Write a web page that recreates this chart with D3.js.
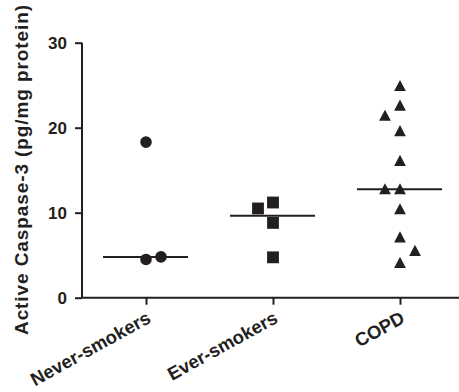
<!DOCTYPE html>
<html>
<head>
<meta charset="utf-8">
<script src="https://cdn.jsdelivr.net/npm/d3@7"></script>
<style>
  body { margin: 0; background: #fff; }
  text { font-family: "Liberation Sans", Arial, sans-serif; font-weight: bold; fill: #231f20; }
</style>
</head>
<body>
<script>
// groups along the x axis
var groups = ["Never-smokers", "Ever-smokers", "COPD"];
var shapes = ["circle", "square", "triangle"];

// values per group (pg/mg protein)
var neverVals = [18.3, 4.5, 4.8];
var everVals = [11.2, 10.5, 8.8, 4.75];
var copdVals = [24.9, 22.6, 21.4, 19.6, 16.1, 12.75, 12.75, 10.4, 7.1, 5.5, 4.1];

// side-by-side nudges for overlapping points (in marker widths)
var neverJit = [0, 0, 1];
var everJit = [0, -1, 0, 0];
var copdJit = [0, 0, -1, 0, 0, -1, 0, 0, 0, 1, 0];

var yTicks = [0, 10, 20, 30];

var width = 459, height = 392;
var margin = {left: 82, top: 42, bottom: 94, right: 0};

var svg = d3.select("body").append("svg")
  .attr("width", width)
  .attr("height", height);

var x = d3.scalePoint()
  .domain(groups)
  .range([146, 400]);

var y = d3.scaleLinear()
  .domain([0, 30])
  .range([height - margin.bottom - 0.3, margin.top + 0.7]);

var ink = "#231f20";
var jitStep = 15;

// y axis
var yAxis = svg.append("g")
  .attr("transform", "translate(" + margin.left + ",0)")
  .call(d3.axisLeft(y).tickValues(yTicks).tickSize(7).tickPadding(8));
yAxis.selectAll("path, line").attr("stroke", ink).attr("stroke-width", 2);
yAxis.select(".domain").attr("d", "M0," + y(30) + "V" + y(0));
yAxis.selectAll("text").style("font-size", "17px").attr("fill", ink)
  .style("font-family", "Liberation Sans, Arial, sans-serif").style("font-weight", "bold");

// x axis
var xAxis = svg.append("g")
  .attr("transform", "translate(0," + y(0) + ")")
  .call(d3.axisBottom(x).tickSize(7).tickFormat(""));
xAxis.selectAll("path, line").attr("stroke", ink).attr("stroke-width", 2);
xAxis.select(".domain").attr("d", "M" + margin.left + ",0H" + width);

// rotated category labels
svg.selectAll(".xlab")
  .data(groups)
  .enter()
  .append("text")
  .attr("class", "xlab")
  .attr("text-anchor", "end")
  .style("font-size", "18.5px")
  .attr("transform", function(d) {
    return "translate(" + (x(d) + 6) + "," + (y(0) + 24) + ") rotate(-29)";
  })
  .text(function(d) { return d; });

// y axis title
svg.append("text")
  .attr("text-anchor", "middle")
  .style("font-size", "19px")
  .attr("textLength", 330)
  .attr("lengthAdjust", "spacing")
  .attr("transform", "translate(28,170) rotate(-90)")
  .text("Active Caspase-3 (pg/mg protein)");

// points
var points = [];
[neverVals, everVals, copdVals].forEach(function(vals, gi) {
  var jit = [neverJit, everJit, copdJit][gi];
  vals.forEach(function(v, i) {
    points.push({group: groups[gi], shape: shapes[gi], value: v, jit: jit[i]});
  });
});

// squat triangle, about as wide as it is tall
var triangle = {
  draw: function(context, size) {
    var h = Math.sqrt(size) * 1.15, w = h * 1.05;
    context.moveTo(0, -h * 0.55);
    context.lineTo(w / 2, h * 0.45);
    context.lineTo(-w / 2, h * 0.45);
    context.closePath();
  }
};

var symbolType = {
  circle: d3.symbolCircle,
  square: d3.symbolSquare,
  triangle: triangle
};
var symbolSize = {circle: 105, square: 140, triangle: 95};

svg.selectAll(".pt")
  .data(points)
  .enter()
  .append("path")
  .attr("class", "pt")
  .attr("d", function(d) { return d3.symbol().type(symbolType[d.shape]).size(symbolSize[d.shape])(); })
  .attr("transform", function(d) {
    return "translate(" + (x(d.group) + d.jit * jitStep) + "," + y(d.value) + ")";
  })
  .attr("fill", ink);

// median lines
var medians = [neverVals, everVals, copdVals].map(function(vals, gi) {
  return {group: groups[gi], value: d3.median(vals)};
});

svg.selectAll(".med")
  .data(medians)
  .enter()
  .append("line")
  .attr("class", "med")
  .attr("x1", function(d) { return x(d.group) - 43; })
  .attr("x2", function(d) { return x(d.group) + 42; })
  .attr("y1", function(d) { return y(d.value); })
  .attr("y2", function(d) { return y(d.value); })
  .attr("stroke", ink)
  .attr("stroke-width", 2);
</script>
</body>
</html>
